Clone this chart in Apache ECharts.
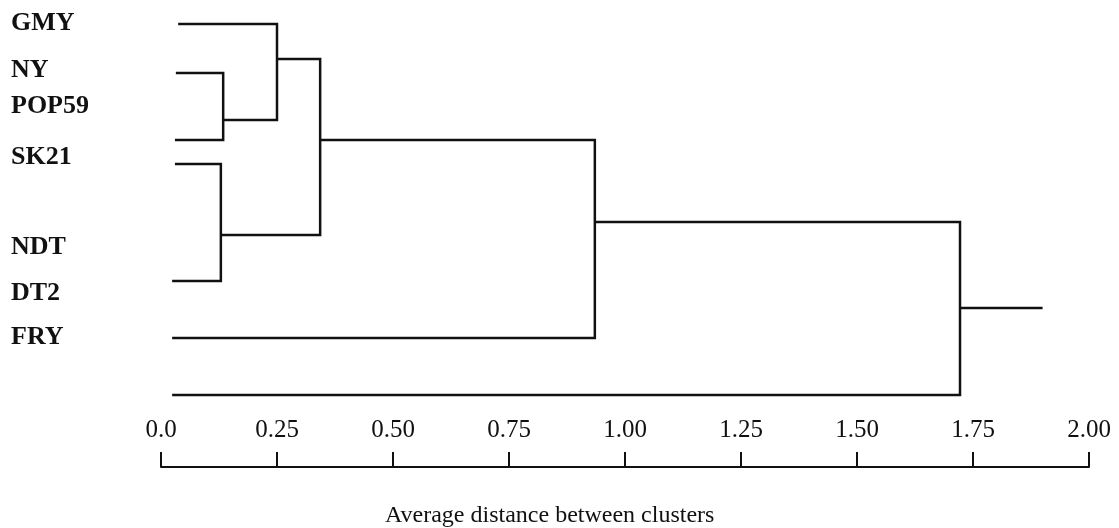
<!DOCTYPE html>
<html>
<head>
<meta charset="utf-8">
<script src="https://cdn.jsdelivr.net/npm/echarts@6/dist/echarts.min.js"></script>
<style>
  html, body { margin: 0; padding: 0; background: #fff; }
  #main { width: 1119px; height: 528px; }
</style>
</head>
<body>
<div id="main"></div>
<script>
// names on the left and the row where each one sits
const labels = ['GMY', 'NY', 'POP59', 'SK21', 'NDT', 'DT2', 'FRY'];
const labelRows = [23, 70, 106, 157, 247, 293, 337];

// leaf lines: row and starting distance
const leafRows = [24, 73, 140, 164, 281, 338, 395];
const leafStart = [0.037, 0.032, 0.030, 0.030, 0.024, 0.024, 0.024];

// merges: children (L = leaf, M = merge), joining distance, row of the outgoing stem
const mergeLeft = ['L1', 'L3', 'L0', 'M2', 'M3', 'M4'];
const mergeRight = ['L2', 'L4', 'M0', 'M1', 'L5', 'L6'];
const mergeHeight = [0.134, 0.129, 0.250, 0.343, 0.935, 1.722];
const mergeRows = [120, 235, 59, 140, 222, 308];
const rootEnd = 1.90;

const tickLabels = ['0.0', '0.25', '0.50', '0.75', '1.00', '1.25', '1.50', '1.75', '2.00'];

function node(ref) {
  const i = +ref.slice(1);
  if (ref[0] == 'L') return [leafStart[i], leafRows[i]];
  return [mergeHeight[i], mergeRows[i]];
}

let segs = [];
for (let i = 0; i < mergeHeight.length; i++) {
  const a = node(mergeLeft[i]);
  const b = node(mergeRight[i]);
  const h = mergeHeight[i];
  segs.push({ coords: [a, [h, a[1]], [h, b[1]], b] });
}
const last = mergeHeight.length - 1;
segs.push({ coords: [[mergeHeight[last], mergeRows[last]], [rootEnd, mergeRows[last]]] });

const serif = '"Liberation Serif", "DejaVu Serif", serif';

const chart = echarts.init(document.getElementById('main'));
chart.setOption({
  animation: false,
  backgroundColor: '#fff',
  title: {
    text: 'Average distance between clusters',
    left: 385,
    top: 504,
    padding: 0,
    textStyle: { fontFamily: serif, fontSize: 24, fontWeight: 'normal', color: '#111' }
  },
  grid: { left: 161, right: 30, top: 0, bottom: 61 },
  xAxis: {
    type: 'value',
    position: 'bottom',
    min: 0,
    max: 2,
    interval: 0.25,
    axisLine: { show: true, onZero: false, lineStyle: { color: '#111', width: 2 } },
    axisTick: { show: true, inside: true, length: 15, lineStyle: { color: '#111', width: 2 } },
    axisLabel: {
      inside: true,
      margin: 24,
      fontFamily: serif,
      fontSize: 25,
      color: '#111',
      formatter: v => tickLabels[Math.round(v / 0.25)]
    },
    splitLine: { show: false }
  },
  yAxis: {
    type: 'value',
    min: 0,
    max: 467,
    inverse: true,
    axisLine: { show: false },
    axisTick: { show: false },
    splitLine: { show: false },
    axisLabel: {
      customValues: labelRows,
      align: 'left',
      margin: 150,
      fontFamily: serif,
      fontSize: 26,
      fontWeight: 'bold',
      color: '#111',
      formatter: v => labels[labelRows.indexOf(v)]
    }
  },
  series: [{
    type: 'lines',
    coordinateSystem: 'cartesian2d',
    polyline: true,
    silent: true,
    lineStyle: { color: '#111', width: 2.5, opacity: 1 },
    data: segs
  }]
});
</script>
</body>
</html>
